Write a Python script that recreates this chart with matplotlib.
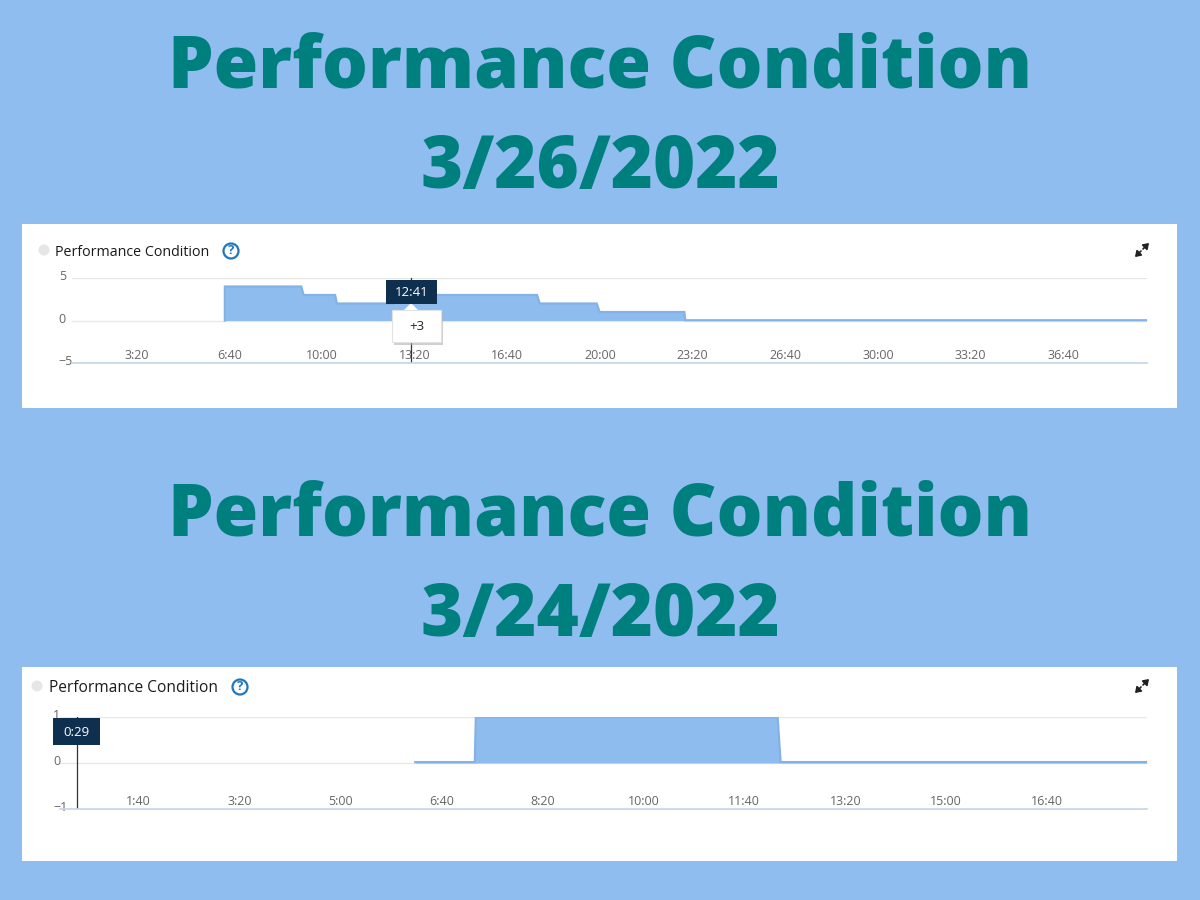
import matplotlib
matplotlib.use("Agg")
import matplotlib.pyplot as plt
from matplotlib.patches import Rectangle, Circle, Polygon
from matplotlib.transforms import ScaledTranslation

# --- 1. Data (x in seconds) ---
TITLE_TOP = ["Performance Condition", "3/26/2022"]
TITLE_BOTTOM = ["Performance Condition", "3/24/2022"]
PANEL_LABEL = "Performance Condition"

top_time = [390, 390, 555, 560, 628, 632, 755, 759, 1064, 1070, 1193, 1199, 1382, 1384, 2381]
top_value = [0, 4, 4, 3, 3, 2, 2, 3, 3, 2, 2, 1, 1, 0.03, 0.03]
top_ticks = [200, 400, 600, 800, 1000, 1200, 1400, 1600, 1800, 2000, 2200]
top_tick_labels = ["3:20", "6:40", "10:00", "13:20", "16:40", "20:00",
                   "23:20", "26:40", "30:00", "33:20", "36:40"]
top_yticks = [-5, 0, 5]
top_cursor = 793
top_cursor_label = "12:41"
top_cursor_value = "+3"

bottom_time = [374, 433, 434, 733, 736, 1099]
bottom_value = [0.02, 0.02, 1, 1, 0.02, 0.02]
bottom_ticks = [100, 200, 300, 400, 500, 600, 700, 800, 900, 1000]
bottom_tick_labels = ["1:40", "3:20", "5:00", "6:40", "8:20", "10:00",
                      "11:40", "13:20", "15:00", "16:40"]
bottom_yticks = [-1, 0, 1]
bottom_cursor = 39
bottom_cursor_label = "0:29"

# --- 2. Colours ---
BG = "#8fbdef"
TEAL = "#007f7f"
FILL = "#8fbcee"
EDGE = "#84b2e6"
NAVY = "#0f2f4f"
TICK = "#666666"

plt.rcParams["font.family"] = ["Open Sans", "DejaVu Sans"]
fig = plt.figure(figsize=(12, 9), dpi=100, facecolor=BG)


def pixel_axes(left, top, right, bottom, zorder):
    return fig.add_axes([left / 1200, 1 - bottom / 900, (right - left) / 1200,
                         (bottom - top) / 900], zorder=zorder)


# Background layer in screen pixels, holds the white cards and the titles
back = pixel_axes(0, 0, 1200, 900, 0)
back.set_xlim(0, 1200)
back.set_ylim(900, 0)
back.axis("off")
back.add_patch(Rectangle((22, 224), 1155, 184, color="white", lw=0))
back.add_patch(Rectangle((22, 667), 1155, 194, color="white", lw=0))

for lines, ys in [(TITLE_TOP, (87, 188)), (TITLE_BOTTOM, (535, 636))]:
    for line, y in zip(lines, ys):
        back.text(600, y, line, ha="center", va="baseline", color=TEAL, fontsize=52,
                  fontweight="heavy")


# --- 3. Charts ---
def draw_chart(rect, time, value, ticks, tick_labels, yticks, xlim, cursor, label_pad):
    ax = pixel_axes(*rect, 1)
    ax.patch.set_alpha(0)
    ax.fill_between(time, value, 0, color=FILL, lw=0)
    ax.plot(time, value, color=EDGE, lw=1.6, solid_joinstyle="miter")
    ax.set_xlim(*xlim)
    ax.set_ylim(yticks[0], yticks[-1])
    for spine in ["top", "left", "right"]:
        ax.spines[spine].set_visible(False)
    ax.spines["bottom"].set_color("#c3d6ea")
    ax.spines["bottom"].set_linewidth(1.2)
    ax.set_xticks(ticks, tick_labels)
    ax.set_yticks(yticks)
    ax.set_yticklabels([str(v).replace("-", "\u2212") for v in yticks])
    ax.tick_params(axis="x", length=0, pad=-10, labelsize=9, labelcolor=TICK)
    ax.tick_params(axis="y", length=0, pad=label_pad, labelsize=9, labelcolor=TICK)
    nudge = ScaledTranslation(0, 2 / 72, fig.dpi_scale_trans)
    for lab in ax.get_yticklabels():
        lab.set_ha("left")
        lab.set_transform(lab.get_transform() + nudge)
    ax.grid(True, axis="y", color="#e8e8e8", lw=1)
    ax.set_axisbelow(True)
    ax.axvline(cursor, color="#333333", lw=0.9)
    return ax


draw_chart((72, 278, 1147, 363), top_time, top_value, top_ticks, top_tick_labels,
           top_yticks, (60, 2381), top_cursor, 9.5)
draw_chart((60, 717, 1147, 809), bottom_time, bottom_value, bottom_ticks, bottom_tick_labels,
           bottom_yticks, (22, 1099), bottom_cursor, 5)

# --- 4. Legend row, icons and tooltips ---
over = pixel_axes(0, 0, 1200, 900, 2)
over.set_xlim(0, 1200)
over.set_ylim(900, 0)
over.axis("off")
over.set_aspect("equal")


def header(dot_x, text_x, icon_x, y, size):
    over.add_patch(Circle((dot_x, y - 1), 5.5, color="#e6e6e6", lw=0))
    over.text(text_x, y + 1, PANEL_LABEL, ha="left", va="center", fontsize=size, color="#1a1a1a")
    over.add_patch(Circle((icon_x, y), 7.5, fc="white", ec="#1f78bf", lw=1.6))
    over.text(icon_x, y, "?", ha="center", va="center", fontsize=9.5, color="#1f78bf",
              fontweight="bold")


def expand_icon(x, y):
    for dx, dy in [(1, -1), (-1, 1)]:
        over.annotate("", xy=(x + dx * 7, y + dy * 7), xytext=(x + dx * 1, y + dy * 1),
                      arrowprops=dict(arrowstyle="-|>,head_width=0.22,head_length=0.32",
                                      color="#222222", lw=1.2, shrinkA=0, shrinkB=0))


header(44, 55, 231, 251, 10.3)
header(37, 49, 240, 687, 11.2)
expand_icon(1142, 250)
expand_icon(1142, 686)

# top tooltip
over.add_patch(Rectangle((394, 313), 49, 32, color="#b0b0b0", alpha=0.6, lw=0))
over.add_patch(Rectangle((392, 310), 49, 32, fc="white", ec="#e2e2e2", lw=0.8))
over.add_patch(Polygon([(404, 310), (411, 303), (418, 310)], color="white", lw=0))
over.text(417, 326, top_cursor_value, ha="center", va="center", fontsize=9.5, color="#222222")
over.add_patch(Rectangle((386, 280), 51, 24, color=NAVY, lw=0))
over.text(411.5, 292, top_cursor_label, ha="center", va="center", fontsize=9.5, color="white")

# bottom tooltip
over.add_patch(Rectangle((53, 718), 47, 27, color=NAVY, lw=0))
over.text(76.5, 732, bottom_cursor_label, ha="center", va="center", fontsize=9.5, color="white")

fig.savefig("out.png", dpi=100, facecolor=BG)
